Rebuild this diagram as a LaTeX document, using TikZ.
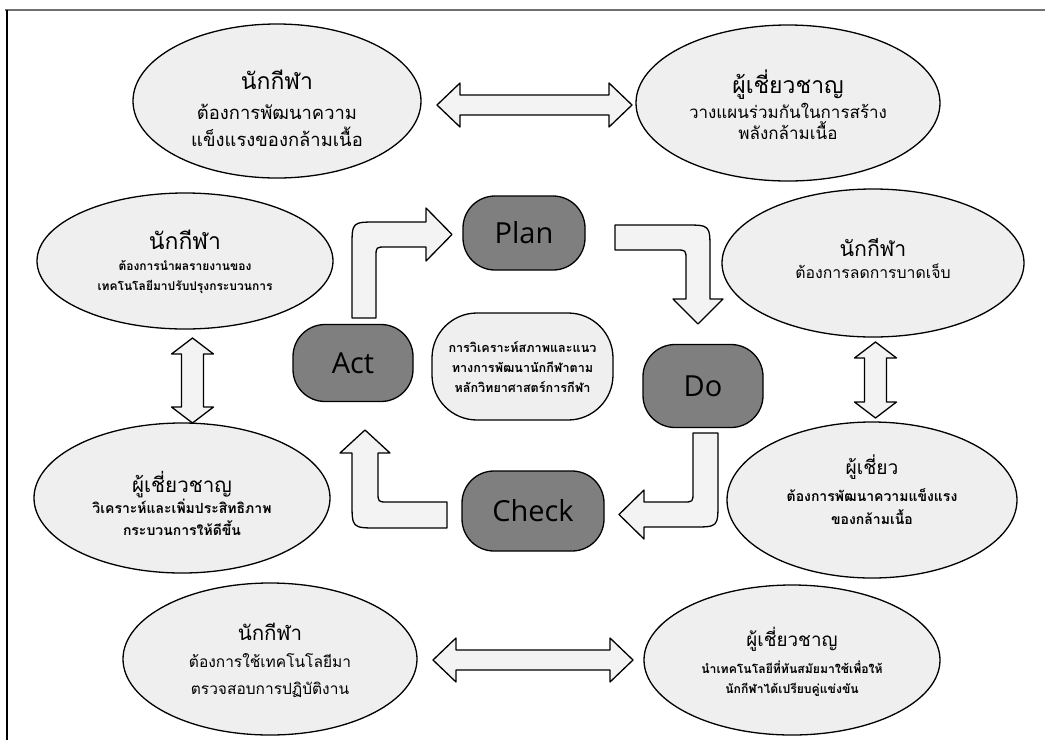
\documentclass[tikz,border=0pt]{standalone}
\usepackage{fontspec}
\usepackage{xcolor}
\usepackage{tikz}
\usetikzlibrary{shapes.geometric}
\newfontfamily\thaifont[Script=Thai]{Loma}
\newfontfamily\stagefont{Open Sans}
\definecolor{bubblefill}{HTML}{EFEFEF}
\definecolor{stagefill}{HTML}{7F7F7F}
\definecolor{arrowfill}{HTML}{F3F3F3}
\definecolor{frameline}{HTML}{707070}
\newcommand{\Body}[2]{\thaifont\fontsize{#1}{#2}\selectfont\lineskiplimit=-30pt\lineskip=0pt}
\newcommand{\BoldBody}[2]{\Body{#1}{#2}\bfseries}
\newcommand{\Head}[3]{{\fontsize{#1}{#1}\selectfont\mdseries #3}\\[#2]}
\tikzset{
  bubble/.style={ellipse, draw=black, fill=bubblefill, line width=1.3pt, inner sep=0pt},
  bubbletext/.style={inner sep=0pt, align=center},
  stage/.style={rectangle, rounded corners=32pt, draw=black, fill=stagefill, line width=1.3pt,
    inner sep=0pt, font=\stagefont\fontsize{29}{34}\selectfont},
  core/.style={rectangle, rounded corners=45pt, draw=black, fill=bubblefill, line width=1.3pt,
    inner sep=0pt, align=center, minimum width=181pt, minimum height=107pt,
    font=\BoldBody{12.6}{20}},
  blockarrow/.style={draw=black, fill=arrowfill, line width=1.3pt, line join=round}
}
\newcommand{\DrawTwoWayH}[3]{% xleft,xright,y
  \draw[blockarrow] (#1,#3) -- (#1+23,#3-22) -- (#1+23,#3-10) -- (#2-23,#3-10) -- (#2-23,#3-22)
    -- (#2,#3) -- (#2-23,#3+22) -- (#2-23,#3+10) -- (#1+23,#3+10) -- (#1+23,#3+22) -- cycle;
}
\newcommand{\DrawTwoWayV}[3]{% x,ytop,ybottom
  \draw[blockarrow] (#1,#2) -- (#1+21,#2+16) -- (#1+11,#2+16) -- (#1+11,#3-16) -- (#1+21,#3-16)
    -- (#1,#3) -- (#1-21,#3-16) -- (#1-11,#3-16) -- (#1-11,#2+16) -- (#1-21,#2+16) -- cycle;
}

\begin{document}
\begin{tikzpicture}[x=1pt, y=-1pt]
  \useasboundingbox (0,0) rectangle (1045,740);
  \draw[frameline, line width=2pt] (5,10) -- (1045,10);
  \draw[black, line width=1.5pt] (7,10) -- (7,740);

  % outer bubbles
  \node[bubble, minimum width=288pt, minimum height=154pt] (athTop) at (277,101) {};
  \node[bubble, minimum width=304pt, minimum height=156pt] (expTop) at (788,103) {};
  \node[bubble, minimum width=296pt, minimum height=136pt] (athLeft) at (185,261) {};
  \node[bubble, minimum width=302pt, minimum height=148pt] (athRight) at (873,263) {};
  \node[bubble, minimum width=296pt, minimum height=150pt] (expLeft) at (182,498) {};
  \node[bubble, minimum width=290pt, minimum height=156pt] (expRight) at (872,500) {};
  \node[bubble, minimum width=294pt, minimum height=152pt] (athBottom) at (270,659) {};
  \node[bubble, minimum width=296pt, minimum height=150pt] (expBottom) at (792,660) {};

  % their texts
  \node[bubbletext, font=\Body{18.4}{27}] (athTopText) at ([yshift=-7pt]athTop.center)
    {\Head{23}{3pt}{นักกีฬา}ต้องการพัฒนาความ\\แข็งแรงของกล้ามเนื้อ};
  \node[bubbletext, font=\Body{17}{21.5}] (expTopText) at ([yshift=-2pt]expTop.center)
    {\Head{23}{3pt}{ผู้เชี่ยวชาญ}วางแผนร่วมกันในการสร้าง\\พลังกล้ามเนื้อ};
  \node[bubbletext, font=\BoldBody{12}{20}] (athLeftText) at ([yshift=-1pt]athLeft.center)
    {\Head{23}{1pt}{นักกีฬา}ต้องการนำผลรายงานของ\\เทคโนโลยีมาปรับปรุงกระบวนการ};
  \node[bubbletext, font=\Body{15.8}{22}] (athRightText) at ([yshift=4pt]athRight.center)
    {\Head{21.3}{0pt}{นักกีฬา}ต้องการลดการบาดเจ็บ};
  \node[bubbletext, font=\BoldBody{14}{21.5}] (expLeftText) at ([yshift=-5pt]expLeft.center)
    {\Head{20.6}{0pt}{ผู้เชี่ยวชาญ}วิเคราะห์และเพิ่มประสิทธิภาพ\\กระบวนการให้ดีขึ้น};
  \node[bubbletext, font=\BoldBody{14}{23}] (expRightText) at ([yshift=10pt]expRight.center)
    {\Head{19.2}{4pt}{ผู้เชี่ยว}ต้องการพัฒนาความแข็งแรง\\ของกล้ามเนื้อ};
  \node[bubbletext, font=\Body{15.5}{27}] (athBottomText) at ([yshift=-1pt]athBottom.center)
    {\Head{20.5}{0pt}{นักกีฬา}ต้องการใช้เทคโนโลยีมา\\ตรวจสอบการปฏิบัติงาน};
  \node[bubbletext, font=\BoldBody{12.2}{20}] (expBottomText) at ([yshift=-1.5pt]expBottom.center)
    {\Head{18.8}{7pt}{ผู้เชี่ยวชาญ}นำเทคโนโลยีที่ทันสมัยมาใช้เพื่อให้\\นักกีฬาได้เปรียบคู่แข่งขัน};

  % two-way arrows between bubbles
  \DrawTwoWayH{437}{632}{105}
  \DrawTwoWayH{433}{633}{660}
  \DrawTwoWayV{192.5}{338}{423}
  \DrawTwoWayV{875.5}{342}{418}

  % PDCA stages
  \node[stage, minimum width=122pt, minimum height=74pt] (plan) at (524,233) {Plan};
  \node[stage, minimum width=120pt, minimum height=83pt] (do) at (703,386) {Do};
  \node[stage, minimum width=142pt, minimum height=80pt] (check) at (533,511) {Check};
  \node[stage, minimum width=120pt, minimum height=77pt] (act) at (353,363) {Act};
  \node[core] (goal) at (522.5,366.5)
    {การวิเคราะห์สภาพและแนว\\ทางการพัฒนานักกีฬาตาม\\หลักวิทยาศาสตร์การกีฬา};

  % bent arrows of the cycle
  \draw[blockarrow] (352,318) -- (352,247) .. controls (352,222) .. (377,222) -- (426,222)
    -- (426,208) -- (452,234.5) -- (426,261) -- (426,247) -- (386,247)
    .. controls (376,247) .. (376,257) -- (376,318) -- cycle;
  \draw[blockarrow] (615,225) -- (685,225) .. controls (710,225) .. (710,250) -- (710,299)
    -- (723,299) -- (698,324) -- (673,299) -- (686,299) -- (686,260)
    .. controls (686,250) .. (676,250) -- (615,250) -- cycle;
  \draw[blockarrow] (693,433) -- (718,433) -- (718,502) .. controls (718,527) .. (693,527)
    -- (644,527) -- (644,539) -- (619,514.5) -- (644,490) -- (644,502) -- (683,502)
    .. controls (693,502) .. (693,492) -- cycle;
  \draw[blockarrow] (447,502) -- (447,528) -- (378,528) .. controls (352,528) .. (352,502)
    -- (352,453) -- (340,453) -- (365,430) -- (390,453) -- (378,453) -- (378,492)
    .. controls (378,502) .. (388,502) -- cycle;
\end{tikzpicture}
\end{document}
